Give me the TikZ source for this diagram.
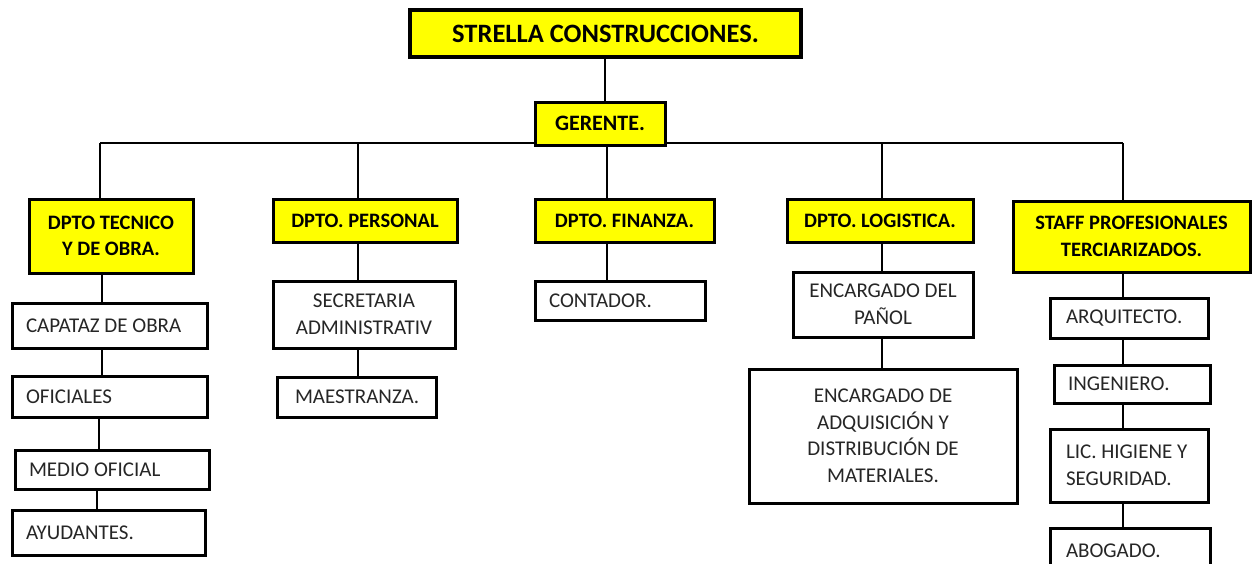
\documentclass[tikz,border=0pt]{standalone}
\usepackage{fontspec}
\setmainfont{Carlito}
\usetikzlibrary{backgrounds,calc}
\definecolor{yel}{HTML}{FFFF00}
\newcommand\BX[8]{%
  \pgfmathsetmacro\bxw{#5-#3}\pgfmathsetmacro\bxh{#6-#4}\pgfmathsetmacro\bxt{#5-#3-28}%
  \node[#2, anchor=north west, minimum width=\bxw pt, minimum height=\bxh pt, #7] (#1) at (#3,#4) {#8};}
\begin{document}
\begin{tikzpicture}[x=1pt,y=-1pt,
  base/.style={draw=black, line width=3pt, outer sep=0pt, inner xsep=14pt, inner ysep=2pt,
    font=\fontsize{21}{26.5}\selectfont, text=black!85},
  sub/.style={base, fill=white},
  dept/.style={base, fill=yel, font=\bfseries\fontsize{20.5}{26.5}\selectfont, text=black},
  lft/.style={text width=\bxt pt, align=flush left},
  ctr/.style={align=flush center},
  conn/.style={draw=black, line width=1.5pt}]
\useasboundingbox (0,0) rectangle (1253,563);
% top
\BX{top}{dept}{410}{10}{801}{57}{line width=4.5pt, ctr, font=\bfseries\fontsize{26.5}{30}\selectfont}{STRELLA CONSTRUCCIONES.}
\BX{ger}{dept}{535}{102}{665}{145}{ctr, font=\bfseries\fontsize{22}{26}\selectfont}{GERENTE.}
% departments
\BX{tec}{dept}{29}{199}{193}{273}{ctr}{DPTO TECNICO\\Y DE OBRA.}
\BX{per}{dept}{273}{199}{457}{242}{ctr}{DPTO. PERSONAL}
\BX{fin}{dept}{535}{199}{714}{242}{ctr}{DPTO. FINANZA.}
\BX{log}{dept}{787}{199}{973}{242}{ctr}{DPTO. LOGISTICA.}
\BX{sta}{dept}{1013}{201}{1250}{272}{ctr}{STAFF PROFESIONALES\\TERCIARIZADOS.}
% tecnico chain
\BX{cap}{sub}{12}{303}{207}{348}{lft}{CAPATAZ DE OBRA}
\BX{ofi}{sub}{12}{376}{207}{417}{lft}{OFICIALES}
\BX{med}{sub}{15}{450}{209}{489}{lft}{MEDIO OFICIAL}
\BX{ayu}{sub}{12}{510}{205}{555}{lft}{AYUDANTES.}
% personal chain
\BX{sec}{sub}{273}{281}{455}{348}{ctr}{SECRETARIA\\ADMINISTRATIV}
\BX{mae}{sub}{277}{377}{436}{417}{lft, inner xsep=18pt, text width=123pt}{MAESTRANZA.}
% finanza
\BX{con}{sub}{535}{281}{705}{320}{lft}{CONTADOR.}
% logistica
\BX{pan}{sub}{793}{272}{973}{337}{ctr}{ENCARGADO DEL\\PAÑOL}
\BX{adq}{sub}{749}{369}{1017}{503}{ctr, inner ysep=0pt, yshift=0pt}{ENCARGADO DE\\ADQUISICIÓN Y\\DISTRIBUCIÓN DE\\MATERIALES.}
% staff
\BX{arq}{sub}{1050}{298}{1208}{338}{lft, inner xsep=16pt, text width=126pt}{ARQUITECTO.}
\BX{ing}{sub}{1054}{365}{1210}{403}{lft}{INGENIERO.}
\BX{lic}{sub}{1050}{429}{1208}{502}{lft, inner xsep=16pt, text width=126pt}{LIC. HIGIENE Y\\SEGURIDAD.}
\BX{abo}{sub}{1050}{528}{1210}{573}{lft, inner xsep=16pt, text width=128pt}{ABOGADO.}
% connector coordinates
\coordinate (hl) at (100,143);
\coordinate (hr) at (1123,143);
\coordinate (xa) at (605,0);
\coordinate (xb) at (607,0);
\coordinate (x1) at (102,0);
\coordinate (x1b) at (99,0);
\coordinate (x1c) at (97,0);
\coordinate (x2) at (358,0);
\coordinate (x4) at (882,0);
\coordinate (x5) at (1123,0);
\begin{scope}[on background layer]
\fill[white] (0,0) rectangle (1253,563);
\draw[conn] (top.south -| xa) -- (ger.north -| xa);
\draw[conn] (hl) -- (hr);
\draw[conn] (ger.south -| xb) -- (fin.north -| xb);
\draw[conn] (hl) -- (tec.north -| hl);
\draw[conn] (hl -| x2) -- (per.north -| x2);
\draw[conn] (hl -| x4) -- (log.north -| x4);
\draw[conn] (hr) -- (sta.north -| hr);
\draw[conn] (tec.south -| x1) -- (cap.north -| x1);
\draw[conn] (cap.south -| x1) -- (ofi.north -| x1);
\draw[conn] (ofi.south -| x1b) -- (med.north -| x1b);
\draw[conn] (med.south -| x1c) -- (ayu.north -| x1c);
\draw[conn] (per.south -| x2) -- (sec.north -| x2);
\draw[conn] (sec.south -| x2) -- (mae.north -| x2);
\draw[conn] (fin.south -| xb) -- (con.north -| xb);
\draw[conn] (log.south -| x4) -- (pan.north -| x4);
\draw[conn] (pan.south -| x4) -- (adq.north -| x4);
\draw[conn] (sta.south -| x5) -- (arq.north -| x5);
\draw[conn] (arq.south -| x5) -- (ing.north -| x5);
\draw[conn] (ing.south -| x5) -- (lic.north -| x5);
\draw[conn] (lic.south -| x5) -- (abo.north -| x5);
\end{scope}
\end{tikzpicture}
\end{document}
